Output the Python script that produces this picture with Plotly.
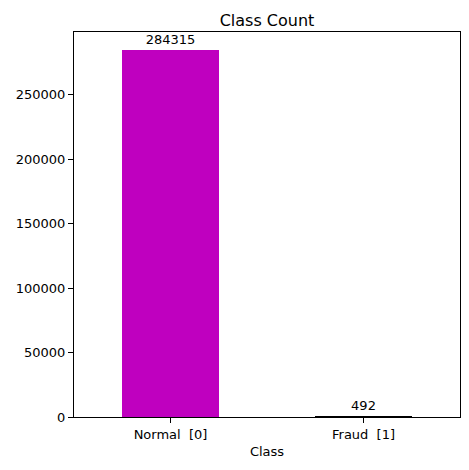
import plotly.graph_objects as go

classes = ["Normal  [0]", "Fraud  [1]"]
counts = [284315, 492]
bar_colors = ["#bf00bf", "#000000"]

fig = go.Figure(go.Bar(
    x=[0, 1], y=counts, width=0.5,
    marker=dict(color=bar_colors, line=dict(width=0)),
    text=[str(c) for c in counts], textposition="outside",
    textfont=dict(size=13, color="black"), cliponaxis=False,
))

# page has an 8px body margin, so the figure is shrunk to fit
fig.update_layout(
    width=461, height=462,
    margin=dict(l=64, r=8, t=24, b=53),
    plot_bgcolor="white", paper_bgcolor="white",
    font=dict(family="DejaVu Sans", size=13, color="black"),
    title=dict(text="Class Count", x=0.5, xref="paper", y=1, yref="paper",
               yanchor="bottom", pad=dict(b=6), font=dict(size=16)),
    showlegend=False,
    bargap=0,
    uniformtext=dict(minsize=13),
)
fig.update_traces(textangle=0)
fig.update_xaxes(
    range=[-0.5, 1.5], tickvals=[0, 1], ticktext=classes,
    showline=True, linecolor="black", linewidth=1, mirror=True,
    ticks="outside", ticklen=5, tickcolor="black", showgrid=False,
    title=dict(text="Class", standoff=6, font=dict(size=13)),
)
fig.update_yaxes(
    range=[0, max(counts) * 1.05], tickvals=[0, 50000, 100000, 150000, 200000, 250000],
    tickformat="d",
    showline=True, linecolor="black", linewidth=1, mirror=True,
    ticks="outside", ticklen=5, tickcolor="black", showgrid=False, zeroline=False,
)

fig.write_html("out.html")
